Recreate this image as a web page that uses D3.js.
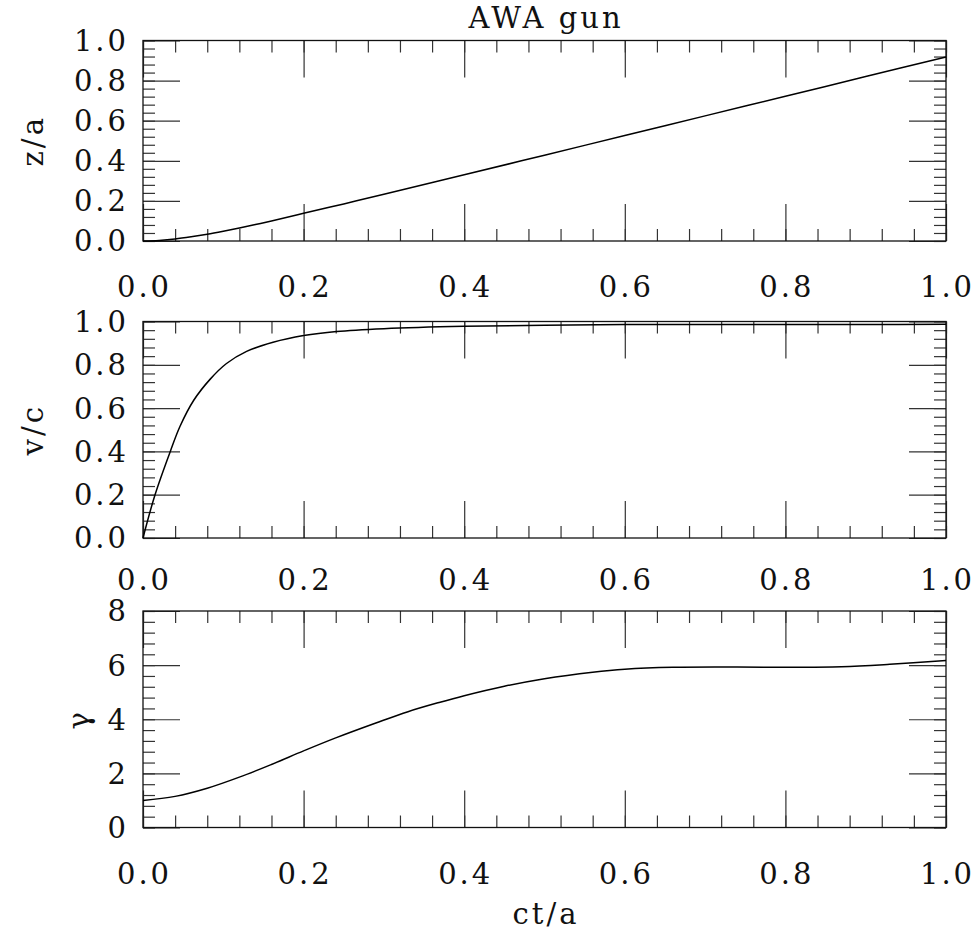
<!DOCTYPE html>
<html>
<head>
<meta charset="utf-8">
<script src="https://cdn.jsdelivr.net/npm/d3@7"></script>
<style>
  html, body { margin: 0; padding: 0; background: #fff; }
  svg { display: block; }
  text { font-family: "DejaVu Serif", serif; fill: #111; }
</style>
</head>
<body>
<svg id="chart" width="977" height="938"></svg>
<script>
// Trajectory of the beam in the AWA gun, versus normalised time ct/a.
const xTicks = [0, 0.2, 0.4, 0.6, 0.8, 1.0];
const xTickLabels = ["0.0", "0.2", "0.4", "0.6", "0.8", "1.0"];

// z/a
const zTime = [0, 0.02, 0.04, 0.06, 0.08, 0.10, 0.12, 0.14, 0.16, 0.20, 0.25, 0.30, 0.40, 0.50, 0.60, 0.70, 0.80, 0.90, 1.00];
const zPos  = [0, 0.003, 0.010, 0.021, 0.034, 0.049, 0.065, 0.082, 0.100, 0.138, 0.185, 0.233, 0.330, 0.428, 0.526, 0.624, 0.722, 0.820, 0.918];
const zTicks = [0, 0.2, 0.4, 0.6, 0.8, 1.0];
const zTickLabels = ["0.0", "0.2", "0.4", "0.6", "0.8", "1.0"];

// v/c
const vTime = [0, 0.015, 0.034, 0.046, 0.063, 0.084, 0.104, 0.129, 0.162, 0.20, 0.241, 0.30, 0.40, 0.50, 0.60, 0.70, 0.80, 0.90, 1.00];
const vVel  = [0, 0.200, 0.400, 0.515, 0.635, 0.735, 0.806, 0.862, 0.904, 0.935, 0.954, 0.967, 0.978, 0.983, 0.986, 0.986, 0.986, 0.986, 0.987];
const vTicks = [0, 0.2, 0.4, 0.6, 0.8, 1.0];
const vTickLabels = ["0.0", "0.2", "0.4", "0.6", "0.8", "1.0"];

// gamma
const gTime  = [0, 0.04, 0.08, 0.12, 0.16, 0.20, 0.24, 0.29, 0.33, 0.37, 0.40, 0.45, 0.50, 0.56, 0.60, 0.66, 0.74, 0.80, 0.87, 0.93, 1.00];
const gGamma = [1.00, 1.15, 1.45, 1.86, 2.33, 2.83, 3.31, 3.86, 4.28, 4.63, 4.87, 5.22, 5.50, 5.74, 5.85, 5.92, 5.93, 5.92, 5.94, 6.03, 6.17];
const gTicks = [0, 2, 4, 6, 8];
const gTickLabels = ["0", "2", "4", "6", "8"];

const svg = d3.select("#chart");
const FS = 29, LS = 3;           // font size, letter spacing
const MAJ = 37, MIN = 12;        // inward tick lengths
const left = 143, right = 946;

const x = d3.scaleLinear().domain([0, 1]).range([left, right]);
const xMinor = d3.range(0, 1.0001, 0.04);

const panels = [
  { time: zTime, vals: zPos, dom: [0, 1], top: 40.5, bottom: 241, ticks: zTicks, labels: zTickLabels,
    minorStep: 0.04, title: "z/a", titleX: 34, labOff: 56 },
  { time: vTime, vals: vVel, dom: [0, 1], top: 321.5, bottom: 538, ticks: vTicks, labels: vTickLabels,
    minorStep: 0.04, title: "v/c", titleX: 34, labOff: 52 },
  { time: gTime, vals: gGamma, dom: [0, 8], top: 611, bottom: 827.5, ticks: gTicks, labels: gTickLabels,
    minorStep: 0.4, title: "\u03b3", titleX: 80, labOff: 56 }
];

panels.forEach(p => {
  const y = d3.scaleLinear().domain(p.dom).range([p.bottom, p.top]);
  const yMinor = d3.range(p.dom[0], p.dom[1] + 1e-6, p.minorStep);
  const g = svg.append("g");

  const tickStyle = sel => sel.attr("stroke", "#333").attr("stroke-width", 1.2);

  // inward ticks along all four sides, built with d3 axes
  const addAxis = (axis, tx, ty) => {
    const a = g.append("g").attr("transform", `translate(${tx},${ty})`).call(axis);
    a.select(".domain").remove();
    a.selectAll("text").remove();
    a.selectAll("line").call(tickStyle);
    return a;
  };
  addAxis(d3.axisBottom(x).tickValues(xTicks).tickSize(-MAJ), 0, p.bottom);
  addAxis(d3.axisBottom(x).tickValues(xMinor).tickSize(-MIN), 0, p.bottom);
  addAxis(d3.axisTop(x).tickValues(xTicks).tickSize(-MAJ), 0, p.top);
  addAxis(d3.axisTop(x).tickValues(xMinor).tickSize(-MIN), 0, p.top);
  addAxis(d3.axisLeft(y).tickValues(p.ticks).tickSize(-MAJ), left, 0);
  addAxis(d3.axisLeft(y).tickValues(yMinor).tickSize(-MIN), left, 0);
  addAxis(d3.axisRight(y).tickValues(p.ticks).tickSize(-MAJ), right, 0);
  addAxis(d3.axisRight(y).tickValues(yMinor).tickSize(-MIN), right, 0);

  // frame
  g.append("rect")
    .attr("x", left).attr("y", p.top)
    .attr("width", right - left).attr("height", p.bottom - p.top)
    .attr("fill", "none").attr("stroke", "#111").attr("stroke-width", 1.3);

  // x tick labels
  g.selectAll(".xl").data(xTicks).join("text")
    .attr("x", d => x(d) + LS / 2).attr("y", p.bottom + p.labOff)
    .attr("text-anchor", "middle")
    .style("font-size", FS + "px").style("letter-spacing", LS + "px")
    .text((d, i) => xTickLabels[i]);

  // y tick labels
  g.selectAll(".yl").data(p.ticks).join("text")
    .attr("x", 126 + LS).attr("y", d => y(d))
    .attr("dy", "0.36em")
    .attr("text-anchor", "end")
    .style("font-size", FS + "px").style("letter-spacing", LS + "px")
    .text((d, i) => p.labels[i]);

  // y axis title
  const cy = (p.top + p.bottom) / 2;
  g.append("text")
    .attr("transform", `translate(${p.titleX},${cy}) rotate(-90)`)
    .attr("text-anchor", "middle")
    .attr("dy", "0.3em")
    .style("font-size", FS + "px").style("letter-spacing", LS + "px")
    .text(p.title);

  // curve
  const line = d3.line()
    .x((d, i) => x(p.time[i]))
    .y(d => y(d))
    .curve(d3.curveCatmullRom.alpha(0.5));
  g.append("path")
    .datum(p.vals)
    .attr("d", line)
    .attr("fill", "none")
    .attr("stroke", "#000")
    .attr("stroke-width", 1.5);
});

// chart title
svg.append("text")
  .attr("x", (left + right) / 2 + LS / 2).attr("y", 28)
  .attr("text-anchor", "middle")
  .style("font-size", FS + "px").style("letter-spacing", LS + "px")
  .text("AWA gun");

// x axis title
svg.append("text")
  .attr("x", (left + right) / 2 + LS / 2).attr("y", 924)
  .attr("text-anchor", "middle")
  .style("font-size", FS + "px").style("letter-spacing", LS + "px")
  .text("ct/a");
</script>
</body>
</html>
